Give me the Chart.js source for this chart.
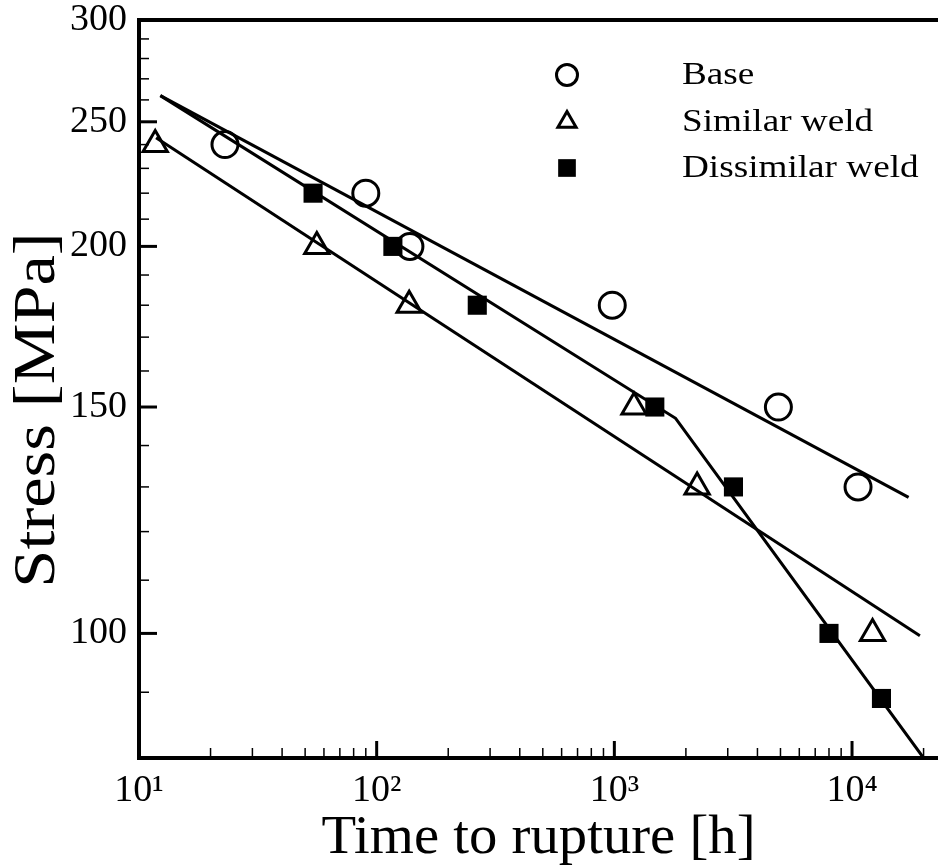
<!DOCTYPE html>
<html>
<head>
<meta charset="utf-8">
<script src="https://cdn.jsdelivr.net/npm/chart.js@4/dist/chart.umd.min.js"></script>
<style>
  html, body { margin: 0; padding: 0; background: #fff; overflow: hidden; }
  #wrap { width: 938px; height: 867px; position: relative; }
  #rupture-chart { display: block; }
</style>
</head>
<body>
<div id="wrap"><canvas id="rupture-chart"></canvas></div>
<script>
// measured points (time to rupture [h], stress [MPa])
const seriesNames = ['Base', 'Similar weld', 'Dissimilar weld'];

const baseHours = [23, 90, 138, 980, 4900, 10600];
const baseStress = [240, 220, 200, 180, 150, 130];

const similarHours = [11.7, 56, 137, 1210, 2230, 12200];
const similarStress = [240, 200, 180, 150, 130, 100];

const dissimilarHours = [54, 117, 265, 1480, 3170, 8000, 13300];
const dissimilarStress = [220, 200, 180, 150, 130, 100, 89];

// fitted lines
const baseFitHours = [12.3, 17300];
const baseFitStress = [262, 127.6];
const similarFitHours = [11.8, 19300];
const similarFitStress = [243, 99.6];
const dissimilarFitHours = [12.3, 1810, 20000];
const dissimilarFitStress = [262, 147, 80];

// axes
const xMin = 10, xMax = 23000;
const yMin = 80, yMax = 300;
const xMajorTicks = [10, 100, 1000, 10000];
const xTickLabels = ['10\u00B9', '10\u00B2', '10\u00B3', '10\u2074'];
const yMajorTicks = [100, 150, 200, 250, 300];
const yTickLabels = ['100', '150', '200', '250', '300'];

const SERIF = '"Liberation Serif", "Times New Roman", serif';

function pts(xs, ys) {
    return xs.map((x, i) => ({ x: x, y: ys[i] }));
}

// minor tick positions: 1..9 x 10^k on x, every 10 MPa on y
const xTickValues = [];
for (let k = 1; k <= 4; k++) {
    for (let m = 1; m <= 9; m++) {
        const v = m * Math.pow(10, k);
        if (v <= xMax) xTickValues.push(v);
    }
}
const yTickValues = [];
for (let v = yMin; v <= yMax; v += 10) yTickValues.push(v);

function stretchedText(ctx, text, x, y, sx) {
    ctx.save();
    ctx.translate(x, y);
    ctx.scale(sx, 1);
    ctx.fillText(text, 0, 0);
    ctx.restore();
}

function marker(ctx, style, x, y, r) {
    ctx.beginPath();
    if (style === 'circle') {
        ctx.arc(x, y, r, 0, Math.PI * 2);
        ctx.stroke();
    } else if (style === 'triangle') {
        const h = r * Math.sqrt(3) / 2;
        ctx.moveTo(x, y - r);
        ctx.lineTo(x + h, y + r / 2);
        ctx.lineTo(x - h, y + r / 2);
        ctx.closePath();
        ctx.stroke();
    } else {
        const s = r * Math.SQRT1_2;
        ctx.fillRect(x - s, y - s, 2 * s, 2 * s);
    }
}

const decorations = {
    id: 'decorations',
    afterDraw(chart) {
        const ctx = chart.ctx;
        const area = chart.chartArea;
        const xs = chart.scales.x, ys = chart.scales.y;
        ctx.save();
        ctx.strokeStyle = '#000';
        ctx.fillStyle = '#000';
        ctx.lineCap = 'butt';

        // inward tick marks
        xs.ticks.forEach(t => {
            const major = xMajorTicks.includes(t.value);
            const px = xs.getPixelForValue(t.value);
            ctx.lineWidth = major ? 3 : 1.5;
            ctx.beginPath();
            ctx.moveTo(px, area.bottom);
            ctx.lineTo(px, area.bottom - (major ? 17 : 10));
            ctx.stroke();
        });
        ys.ticks.forEach(t => {
            const major = yMajorTicks.includes(t.value);
            const py = ys.getPixelForValue(t.value);
            ctx.lineWidth = major ? 3 : 1.5;
            ctx.beginPath();
            ctx.moveTo(area.left, py);
            ctx.lineTo(area.left + (major ? 18 : 10), py);
            ctx.stroke();
        });

        // top frame line
        ctx.lineWidth = 4;
        ctx.beginPath();
        ctx.moveTo(area.left - 2, area.top);
        ctx.lineTo(area.right, area.top);
        ctx.stroke();

        // axis titles
        ctx.textAlign = 'center';
        ctx.textBaseline = 'alphabetic';
        ctx.font = '54px ' + SERIF;
        stretchedText(ctx, 'Time to rupture [h]', (area.left + area.right) / 2, 853, 1.05);

        ctx.save();
        ctx.translate(54, 410);
        ctx.rotate(-Math.PI / 2);
        ctx.font = '60px ' + SERIF;
        stretchedText(ctx, 'Stress [MPa]', 0, 0, 1.14);
        ctx.restore();

        // legend
        const rows = [75, 122, 168];
        ctx.font = '31px ' + SERIF;
        ctx.textAlign = 'left';
        ctx.textBaseline = 'middle';
        chart.data.datasets.filter(d => d.legendStyle).forEach((d, i) => {
            ctx.lineWidth = 3;
            marker(ctx, d.legendStyle, 567, rows[i], d.legendStyle === 'rect' ? 12.5 : 10.5);
            stretchedText(ctx, d.label, 682, rows[i] + 1, 1.2);
        });
        ctx.restore();
    }
};

const markerBase = { showLine: false, borderColor: '#000', pointBorderColor: '#000' };
const fitBase = {
    showLine: true, borderColor: '#000', borderWidth: 3, pointRadius: 0,
    pointHoverRadius: 0, fill: false, tension: 0
};

new Chart(document.getElementById('rupture-chart'), {
    type: 'scatter',
    data: {
        datasets: [
            Object.assign({}, markerBase, {
                label: seriesNames[0], legendStyle: 'circle',
                data: pts(baseHours, baseStress),
                pointStyle: 'circle', pointRadius: 13, pointBorderWidth: 3,
                pointBackgroundColor: 'rgba(0,0,0,0)'
            }),
            Object.assign({}, markerBase, {
                label: seriesNames[1], legendStyle: 'triangle',
                data: pts(similarHours, similarStress),
                pointStyle: 'triangle', pointRadius: 14, pointBorderWidth: 3,
                pointBackgroundColor: 'rgba(0,0,0,0)'
            }),
            Object.assign({}, markerBase, {
                label: seriesNames[2], legendStyle: 'rect',
                data: pts(dissimilarHours, dissimilarStress),
                pointStyle: 'rect', pointRadius: 13.5, pointBorderWidth: 0,
                pointBackgroundColor: '#000'
            }),
            Object.assign({}, fitBase, { label: 'Base fit', data: pts(baseFitHours, baseFitStress) }),
            Object.assign({}, fitBase, { label: 'Similar fit', data: pts(similarFitHours, similarFitStress) }),
            Object.assign({}, fitBase, { label: 'Dissimilar fit', data: pts(dissimilarFitHours, dissimilarFitStress) })
        ]
    },
    options: {
        responsive: true,
        maintainAspectRatio: false,
        animation: false,
        events: [],
        layout: { autoPadding: false, padding: { top: 20, right: 0, left: 0, bottom: 0 } },
        plugins: {
            legend: { display: false },
            tooltip: { enabled: false }
        },
        scales: {
            x: {
                type: 'logarithmic',
                min: xMin,
                max: xMax,
                afterBuildTicks: s => { s.ticks = xTickValues.map(v => ({ value: v })); },
                afterFit: s => { s.height = 109; },
                // tickLength keeps labels off the axis; the marks are drawn inward by the plugin
                grid: { display: false, drawTicks: true, tickLength: 14 },
                border: { display: true, width: 4, color: '#000' },
                ticks: {
                    autoSkip: false,
                    maxRotation: 0,
                    padding: 0,
                    color: '#000',
                    font: { family: SERIF, size: 38, lineHeight: 1 },
                    callback: v => {
                        const i = xMajorTicks.indexOf(v);
                        return i >= 0 ? xTickLabels[i] : '';
                    }
                }
            },
            y: {
                type: 'logarithmic',
                min: yMin,
                max: yMax,
                afterBuildTicks: s => { s.ticks = yTickValues.map(v => ({ value: v })); },
                afterFit: s => { s.width = 139; },
                grid: { display: false, drawTicks: true, tickLength: 12 },
                border: { display: true, width: 4, color: '#000' },
                ticks: {
                    autoSkip: false,
                    padding: 0,
                    color: '#000',
                    font: { family: SERIF, size: 38, lineHeight: 1 },
                    callback: v => {
                        const i = yMajorTicks.indexOf(v);
                        return i >= 0 ? yTickLabels[i] : '';
                    }
                }
            }
        }
    },
    plugins: [decorations]
});
</script>
</body>
</html>
